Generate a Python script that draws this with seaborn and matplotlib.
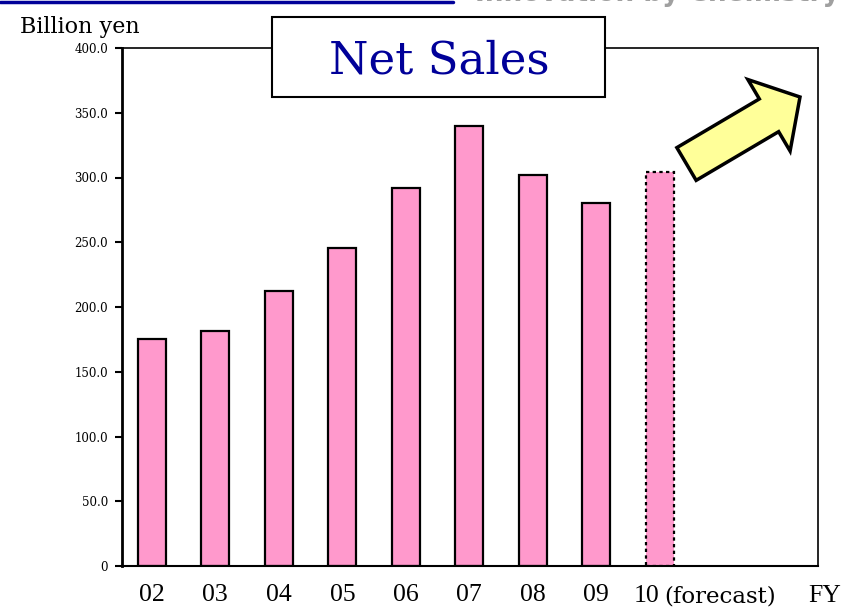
import matplotlib
matplotlib.use("Agg")
import matplotlib.pyplot as plt
import matplotlib.patches as mpatches
import matplotlib.lines as mlines
import seaborn as sns
import pandas as pd

# fiscal years and net sales (billion yen), last one is the forecast
years = ["02", "03", "04", "05", "06", "07", "08", "09", "10"]
net_sales = [175.5, 181.2, 212.0, 245.4, 291.9, 339.9, 301.9, 280.3, 304.3]
y_ticks = [0, 50, 100, 150, 200, 250, 300, 350, 400]
y_tick_labels = ["0"] + ["%.1f" % v for v in y_ticks[1:]]

PINK = "#FF99CC"
NAVY = "#000099"

sns.set_style("white")
plt.rcParams["font.family"] = ["DejaVu Serif"]
plt.rcParams["text.color"] = "black"

df = pd.DataFrame({"year": years, "sales": net_sales})

fig = plt.figure(figsize=(8.43, 6.08), dpi=100)
ax = fig.add_axes([122 / 843, 42 / 608, 696 / 843, 518 / 608])

sns.barplot(data=df, x="year", y="sales", order=years, color=PINK,
            saturation=1, width=0.44, edgecolor="black", linewidth=1.6, ax=ax)

# forecast bar gets a dotted outline
ax.patches[-1].set_linestyle((0, (1.5, 1.5)))

ax.set_xlim(-0.47, 10.49)
ax.set_ylim(0, 400)
ax.set_xlabel("")
ax.set_ylabel("")

# y axis
ax.set_yticks(y_ticks)
ax.set_yticklabels(y_tick_labels, fontsize=8.5)
ax.tick_params(axis="y", direction="out", length=5, width=1.5, pad=5, left=True,
               colors="black")

# x axis: only the actual years as ticks, forecast label and FY as free text
ax.set_xticks(range(len(years) - 1))
ax.set_xticklabels(years[:-1], fontsize=18.5, family="Liberation Serif")
ax.tick_params(axis="x", length=0, pad=13, colors="black")
base_y = -36 / 518
ax.text((634 - 122) / 696, base_y, years[-1], transform=ax.transAxes,
        ha="left", va="baseline", fontsize=18.5, family="Liberation Serif")
ax.text((664 - 122) / 696, base_y, "(forecast)", transform=ax.transAxes,
        ha="left", va="baseline", fontsize=16.5, family="DejaVu Serif")
ax.text((841 - 122) / 696, base_y, "FY", transform=ax.transAxes, ha="right",
        va="baseline", fontsize=18.5, family="Liberation Serif")

for side in ["left", "right", "top", "bottom"]:
    ax.spines[side].set_visible(True)
    ax.spines[side].set_color("black")
ax.spines["left"].set_linewidth(2)
ax.spines["bottom"].set_linewidth(1.5)
ax.spines["top"].set_linewidth(1.2)
ax.spines["right"].set_linewidth(1.2)

# unit label
fig.text(20 / 843, (608 - 33) / 608, "Billion yen", fontsize=16, va="baseline")

# title box on top of the frame
box = mpatches.Rectangle((272 / 843, (608 - 96.5) / 608), 333 / 843, 79.5 / 608,
                         transform=fig.transFigure, facecolor="white",
                         edgecolor="black", linewidth=1.5, zorder=5)
fig.add_artist(box)
fig.text((333 + 545) / 2 / 843, (608 - 74) / 608, "Net Sales", fontsize=32.5,
         color=NAVY, ha="center", va="baseline", zorder=6)

# yellow arrow pointing up-right
arrow = mpatches.FancyArrow(6.865, 4.44, 1.135, 0.67, width=0.38, head_width=0.83,
                            head_length=0.36, length_includes_head=True,
                            transform=fig.dpi_scale_trans, facecolor="#FFFF99",
                            edgecolor="black", linewidth=2.5, zorder=5)
fig.add_artist(arrow)

# blue rule and cut-off header text at the very top
fig.add_artist(mlines.Line2D([0, 453 / 843], [1 - 1.5 / 608, 1 - 1.5 / 608],
                             transform=fig.transFigure, color=NAVY, linewidth=2.5))
fig.text(475 / 843, 1 - 1 / 608, "Innovation by Chemistry", fontsize=19,
         color="#A0A0A0", family="DejaVu Sans", fontweight="bold", va="baseline")

fig.savefig("out.png", dpi=100)
